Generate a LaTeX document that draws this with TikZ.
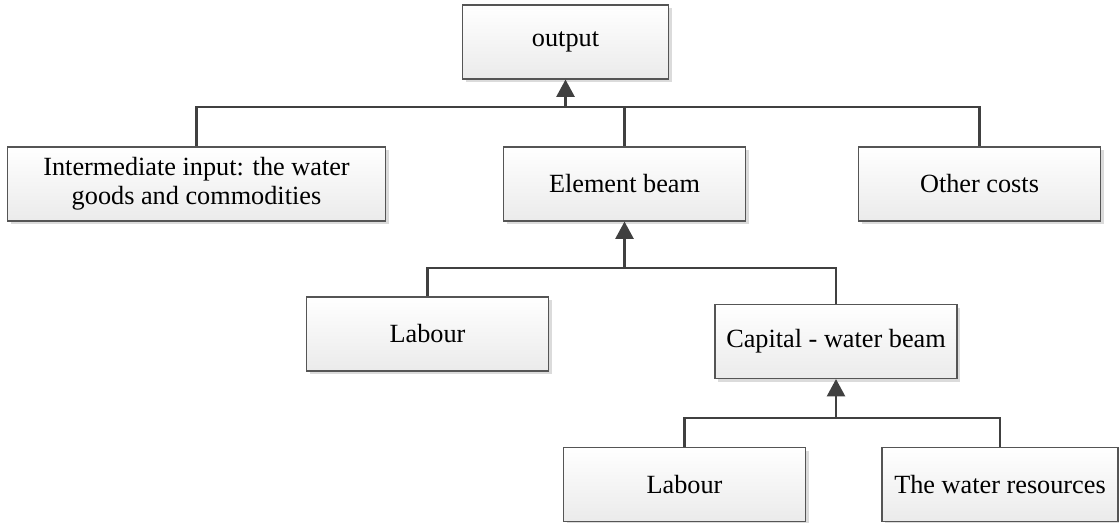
\documentclass[tikz,border=0pt]{standalone}
\usepackage{fontspec}
\setmainfont{Liberation Serif}
\usetikzlibrary{arrows.meta,shadows}
\definecolor{linegray}{HTML}{404040}
\definecolor{boxgray}{HTML}{555555}
\tikzset{%
  box/.style = {
    shape=rectangle, draw=boxgray, line width=0.8pt,
    align=center, inner sep=0pt,
    minimum width=181.5pt, minimum height=55.5pt,
    top color=white, bottom color=black!8,
    font=\fontsize{19.7}{22}\selectfont,
    drop shadow={shadow xshift=2.6pt, shadow yshift=-2.6pt,
      fill=black!14, opacity=1}
  },
  link/.style = {draw=linegray, line width=1.9pt},
  uplink/.style = {link, -{Triangle[width=13.5pt,length=13pt]}}
}
\begin{document}
\begin{tikzpicture}[x=0.75pt,y=-0.75pt]
  \useasboundingbox (0,0) rectangle (1119,522);
  % top level
  \node[box, minimum width=155pt] (output) at (565.5,42) {output};
  \node[box, minimum width=284pt] (inter) at (196.5,184)
    {Intermediate input: the water\\goods and commodities};
  \node[box] (elem) at (624.5,184) {Element beam};
  \node[box] (other) at (979.5,184) {Other costs};
  % element beam
  \node[box] (labourA) at (427.5,334) {Labour};
  \node[box] (capital) at (836,341.5) {Capital - water beam};
  % capital
  \node[box] (labourB) at (684.5,484.5) {Labour};
  \node[box, minimum width=177pt] (water) at (1000,484.5) {The water resources};
  % connectors
  \coordinate (busA) at (565.5,107);
  \coordinate (busB) at (624.5,268);
  \coordinate (busC) at (836,418);
  \draw[link] (inter.north) |- (busA) -| (other.north);
  \draw[link] (elem.north) -- (elem.north |- busA);
  \draw[uplink] (busA) -- (output.south);
  \draw[link] (labourA.north) |- (busB) -| (capital.north);
  \draw[uplink] (busB) -- (elem.south);
  \draw[link] (labourB.north) |- (busC) -| (water.north);
  \draw[uplink] (busC) -- (capital.south);
\end{tikzpicture}
\end{document}
